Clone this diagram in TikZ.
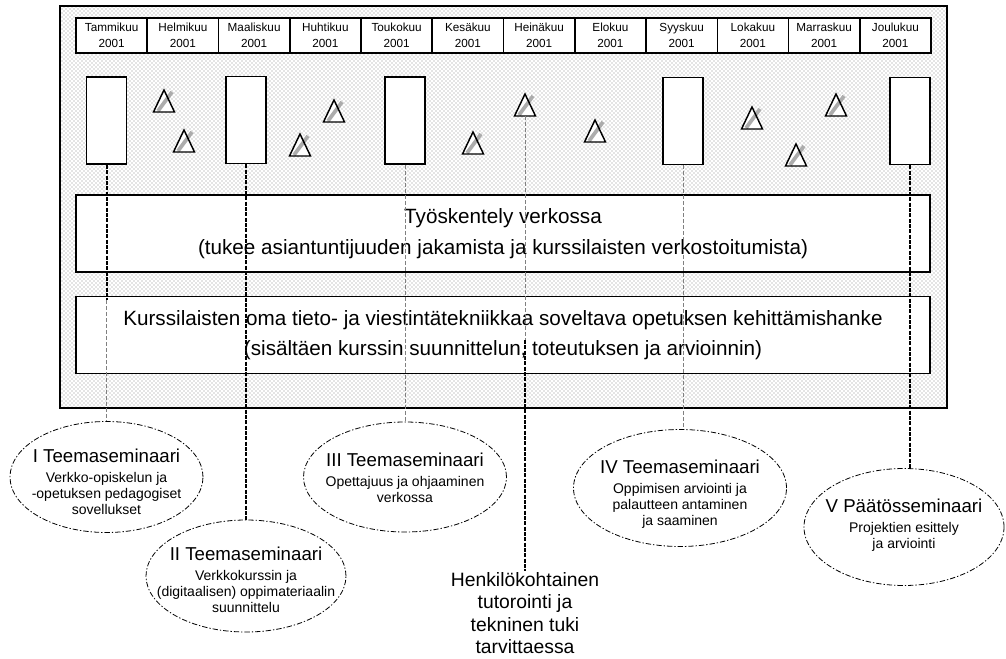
\documentclass[tikz,border=0pt]{standalone}
\usepackage{fontspec}
\setmainfont{Liberation Sans}
\usetikzlibrary{shapes.geometric,patterns,calc}
\newcommand\kkfont{\fontsize{8.8}{12}\selectfont}
\newcommand\isofont{\fontsize{15.5}{23}\selectfont}
\newcommand\otsfont{\fontsize{14}{17}\selectfont}
\newcommand\pienifont{\fontsize{10.5}{12}\selectfont}
\newcommand\tukifont{\fontsize{14.5}{16.8}\selectfont}
\begin{document}
\begin{tikzpicture}[x=0.75pt,y=-0.75pt,
	kuukausi/.style={rectangle,draw,line width=1.1pt,fill=white,minimum width=53.4pt,minimum height=26.25pt,inner sep=0pt,align=center,font=\kkfont},
	jakso/.style={rectangle,draw,line width=1.1pt,fill=white,minimum width=30pt,minimum height=65.5pt,inner sep=0pt},
	tyo/.style={rectangle,draw,line width=1.1pt,fill=white,minimum width=640.5pt,minimum height=57.5pt,inner sep=0pt,align=center,font=\isofont},
	seminaari/.style={ellipse,draw,line width=0.6pt,dash pattern=on 4pt off 1.5pt on 1pt off 1.5pt,inner sep=0pt},
	seminaariteksti/.style={align=center,font=\pienifont,inner sep=0pt},
	paksu/.style={line width=1.5pt,dash pattern=on 3pt off 1pt},
	ohut/.style={gray,line width=0.5pt,dash pattern=on 3pt off 1.5pt},
	kolmio/.style={draw,line width=1.1pt,line join=miter},
	raita/.style={gray!65,line width=2.8pt}]

\useasboundingbox (0,0) rectangle (1006,659);
% tausta
\draw[line width=1.5pt,preaction={fill=white},pattern=crosshatch dots,pattern color=gray!90] (60,6) rectangle (947,408);

% kuukaudet
\foreach \kk [count=\i] in {Tammikuu,Helmikuu,Maaliskuu,Huhtikuu,Toukokuu,Kesäkuu,Heinäkuu,Elokuu,Syyskuu,Lokakuu,Marraskuu,Joulukuu}
	\node[kuukausi] (kk\i) at ({76+71.25*(\i-0.5)},35.5) {\kk\\2001};

% seminaarijaksot
\node[jakso] (j1) at (106.5,120.5) {};
\node[jakso] (j2) at (246,120) {};
\node[jakso] (j3) at (405,120.5) {};
\node[jakso] (j4) at (683,121) {};
\node[jakso] (j5) at (910,121) {};

% kolmiot
\foreach \n/\x/\y in {1/164/90,2/184/130,3/300/134,4/334/100,5/473/132,6/525/94,7/595/120,8/752/107,9/796/144,10/836/94} {
	\coordinate (t\n) at (\x,\y);
	\fill[white] (t\n) -- ++(-10.5,22) -- ++(21,0) -- cycle;
	\draw[raita] ($(t\n)+(-6,21)$) -- ++(14,-19);
	\draw[kolmio] (t\n) -- ++(-10.5,22) -- ++(21,0) -- cycle;
	\coordinate (ala\n) at ($(t\n)+(0,22)$);
}

% verkkotyo ja hanke
\node[tyo] (verkko) at (503,233.5) {Työskentely verkossa\\(tukee asiantuntijuuden jakamista ja kurssilaisten verkostoitumista)};
\node[tyo] (hanke) at (503,335) {Kurssilaisten oma tieto- ja viestintätekniikkaa soveltava opetuksen kehittämishanke\\(sisältäen kurssin suunnittelun, toteutuksen ja arvioinnin)};

% seminaarit
\node[seminaari,minimum width=144.75pt,minimum height=83.25pt] (e1) at (106.5,477) {};
\node[seminaariteksti] (e1t) at (106.5,482) {{\otsfont I Teemaseminaari}\\[3pt]Verkko-opiskelun ja\\-opetuksen pedagogiset\\sovellukset};
\node[seminaari,minimum width=150pt,minimum height=84pt] (e2) at (246,576) {};
\node[seminaariteksti] (e2t) at (246,580) {{\otsfont II Teemaseminaari}\\[3pt]Verkkokurssin ja\\(digitaalisen) oppimateriaalin\\suunnittelu};
\node[seminaari,minimum width=152.25pt,minimum height=82.5pt] (e3) at (405,477) {};
\node[seminaariteksti] (e3t) at (405,478) {{\otsfont III Teemaseminaari}\\[3pt]Opettajuus ja ohjaaminen\\verkossa};
\node[seminaari,minimum width=159.75pt,minimum height=87.75pt] (e4) at (680,488) {};
\node[seminaariteksti] (e4t) at (680,494) {{\otsfont IV Teemaseminaari}\\[3pt]Oppimisen arviointi ja\\palautteen antaminen\\ja saaminen};
\node[seminaari,minimum width=150pt,minimum height=87.75pt] (e5) at (904,527) {};
\node[seminaariteksti] (e5t) at (904,525) {{\otsfont V Päätösseminaari}\\[3pt]Projektien esittely\\ja arviointi};

% tutorointi
\node[align=center,font=\tukifont,inner sep=1pt] (tuki) at (525,613) {Henkilökohtainen\\tutorointi ja\\tekninen tuki\\tarvittaessa};

% yhteydet
\coordinate (k1) at (106.5,300);
\draw[paksu] (j1.south) -- (k1);
\draw[ohut] (k1) -- (k1 |- e1.north);
\draw[paksu] (j2.south) -- (e2.north);
\draw[ohut] (j3.south) -- (e3.north);
\coordinate (k6) at (525,340);
\draw[ohut] (ala6) -- (k6);
\draw[paksu] (k6) -- (tuki.north);
\draw[ohut] (j4.south) -- (j4.south |- e4.north);
\draw[paksu] (j5.south) -- (j5.south |- e5.north);
\end{tikzpicture}
\end{document}
